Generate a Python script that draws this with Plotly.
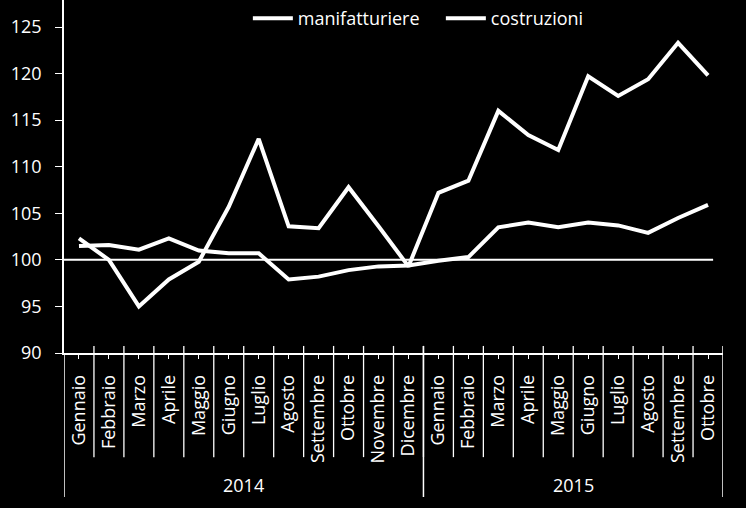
import plotly.graph_objects as go

mesi = ["Gennaio", "Febbraio", "Marzo", "Aprile", "Maggio", "Giugno", "Luglio",
        "Agosto", "Settembre", "Ottobre", "Novembre", "Dicembre",
        "Gennaio", "Febbraio", "Marzo", "Aprile", "Maggio", "Giugno", "Luglio",
        "Agosto", "Settembre", "Ottobre"]
anni = ["2014", "2015"]
mesi_per_anno = [12, 10]

manifatturiere = [101.5, 101.6, 101.1, 102.3, 101.0, 100.7, 100.7, 97.9, 98.2, 98.9,
                  99.3, 99.4, 99.9, 100.3, 103.5, 104.0, 103.5, 104.0, 103.7, 102.9,
                  104.5, 105.9]
costruzioni = [102.3, 100.0, 95.0, 97.9, 99.8, 105.7, 113.0, 103.6, 103.4, 107.8,
               103.6, 99.3, 107.2, 108.5, 116.0, 113.4, 111.8, 119.7, 117.6, 119.4,
               123.3, 119.8]
riferimento = 100
y_ticks = [90, 95, 100, 105, 110, 115, 120, 125]

FONT = "Open Sans"
WHITE = "#ffffff"
idx = list(range(len(mesi)))

fig = go.Figure()
fig.add_trace(go.Scatter(x=idx, y=manifatturiere, name="manifatturiere", mode="lines",
                         line=dict(color=WHITE, width=4)))
fig.add_trace(go.Scatter(x=idx, y=costruzioni, name="costruzioni", mode="lines",
                         line=dict(color=WHITE, width=4)))

shapes = []
n = len(mesi)
shapes.append(dict(type="line", xref="x", yref="y", x0=-0.5, x1=n - 1 + 0.17,
                   y0=riferimento, y1=riferimento, line=dict(color=WHITE, width=2)))
for i in range(n - 1):
    shapes.append(dict(type="line", xref="x", yref="paper", x0=i + 0.5, x1=i + 0.5,
                       y0=0.02, y1=-0.295, line=dict(color=WHITE, width=1.3)))
bounds = [-0.5]
acc = -0.5
for m in mesi_per_anno:
    acc += m
    bounds.append(acc)
for b in bounds:
    shapes.append(dict(type="line", xref="x", yref="paper", x0=b, x1=b,
                       y0=0.02 if b > -0.5 else 0, y1=-0.408, line=dict(color=WHITE, width=1.5)))

annotations = []
start = -0.5
for anno, m in zip(anni, mesi_per_anno):
    annotations.append(dict(x=start + m / 2, y=-0.374, xref="x", yref="paper", text=anno,
                            showarrow=False, font=dict(family=FONT, size=18, color=WHITE),
                            xanchor="center", yanchor="middle"))
    start += m

fig.update_layout(
    width=746, height=508,
    paper_bgcolor="#000000", plot_bgcolor="#000000",
    margin=dict(l=64, r=23, t=0, b=155),
    font=dict(family=FONT, color=WHITE, size=18),
    showlegend=True,
    legend=dict(orientation="h", x=0.279, xanchor="left", y=1.0, yanchor="top",
                bgcolor="rgba(0,0,0,0)", font=dict(family=FONT, size=18, color=WHITE),
                itemwidth=40, entrywidth=138),
    xaxis=dict(range=[-0.5, n - 0.5], tickmode="array", tickvals=idx, ticktext=mesi,
               tickangle=-90, ticks="outside", ticklen=4, tickcolor=WHITE, tickwidth=1.3,
               showline=True, linecolor=WHITE, linewidth=1.5, showgrid=False, zeroline=False,
               tickfont=dict(family=FONT, size=18, color=WHITE), ticklabelstandoff=9),
    yaxis=dict(range=[90, 127.9], tickmode="array", tickvals=y_ticks,
               ticks="outside", ticklen=7, tickcolor=WHITE, tickwidth=1.3,
               showline=True, linecolor=WHITE, linewidth=1.5, showgrid=False, zeroline=False,
               tickfont=dict(family=FONT, size=18, color=WHITE), ticklabelstandoff=10),
    shapes=shapes, annotations=annotations,
)

fig.write_html("out.html", config={"displayModeBar": False},
               post_script="document.body.style.margin='0';document.body.style.padding='0';"
                           "document.body.style.background='#000';")
